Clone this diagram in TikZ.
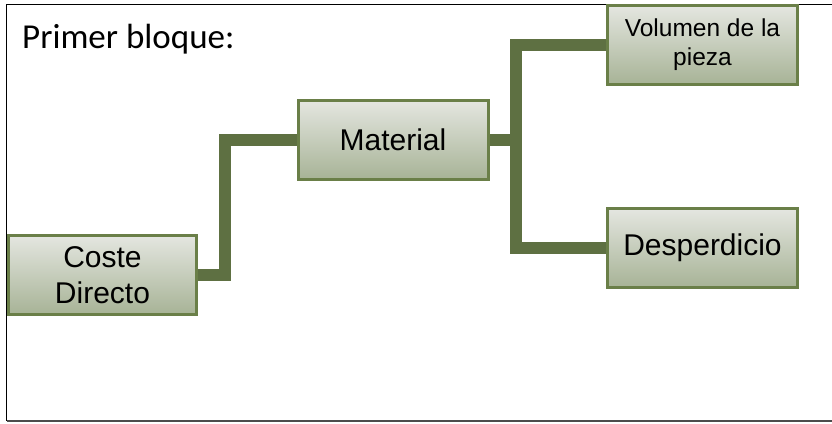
\documentclass[tikz,border=0pt]{standalone}
\usepackage{fontspec}
\setmainfont{Liberation Sans}
\newfontfamily\titlefont{Carlito}
\definecolor{linkgreen}{HTML}{5E7042}
\definecolor{boxedge}{HTML}{6A7F48}
\definecolor{boxtop}{HTML}{E4E6E0}
\definecolor{boxbottom}{HTML}{A7B396}
\pgfdeclarelayer{links}
\pgfsetlayers{links,main}
\begin{document}
\begin{tikzpicture}[x=1pt,y=-1pt,
  block/.style={draw=boxedge, line width=3pt, top color=boxtop, bottom color=boxbottom,
    minimum width=190pt, minimum height=79pt, inner sep=0pt, align=center,
    font=\fontsize{30}{36}\selectfont},
  smallblock/.style={block, font=\fontsize{24.5}{29}\selectfont},
  link/.style={draw=linkgreen, line width=12pt, line join=miter, line cap=butt}]
  \useasboundingbox (0,0) rectangle (832,423);
  % outer frame, open on the right
  \draw[black, line width=1.6pt] (832,4.5) -- (6.5,4.5) -- (6.5,421);
  \draw[black!70, line width=1.6pt] (6.5,421) -- (832,421);
  \node[anchor=base west, inner sep=0pt, font=\titlefont\fontsize{35}{42}\selectfont] (title) at (22,48.5) {Primer bloque:};
  % blocks
  \node[block, minimum width=188pt] (cd) at (102.5,275) {Coste\\Directo};
  \node[block] (mat) at (393,140) {Material};
  \node[smallblock] (vol) at (702.5,45) {Volumen de la\\pieza};
  \node[block] (desp) at (702.5,248) {Desperdicio};
  % junction points of the tree
  \coordinate (j1) at (225,140);
  \coordinate (j2) at (516,140);
  % connectors, kept beneath the blocks
  \begin{pgfonlayer}{links}
    \path[link] (cd.east) -- (cd.east -| j1) |- (mat.west);
    \path[link] (mat.east) -- (j2);
    \path[link] (vol.west) -| (j2) |- (desp.west);
  \end{pgfonlayer}
\end{tikzpicture}
\end{document}
